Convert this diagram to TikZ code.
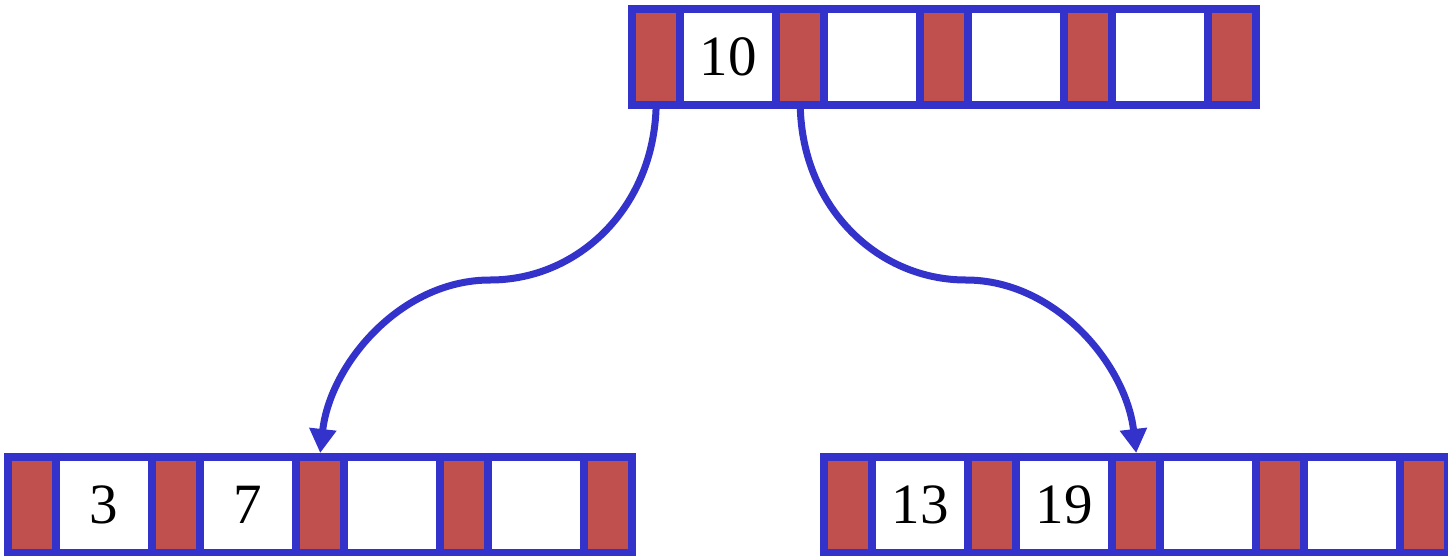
\documentclass[tikz,border=0pt]{standalone}
\usepackage{fontspec}
\setmainfont{Liberation Serif}
\usetikzlibrary{arrows.meta,calc}
\definecolor{bblue}{RGB}{51,51,204}
\definecolor{cred}{RGB}{192,80,77}
\tikzset{
  frame/.style={fill=bblue, inner sep=0pt, minimum width=632pt, minimum height=104pt, anchor=north west},
  ptr/.style={fill=cred, inner sep=0pt, minimum width=40pt, minimum height=88pt, anchor=north west},
  keycell/.style={fill=white, inner sep=0pt, minimum width=88pt, minimum height=88pt, anchor=north west, font=\fontsize{57}{60}\selectfont},
  link/.style={draw=bblue, line width=7pt, -{Triangle[width=26pt,length=24pt]}}
}
\newcommand{\bnode}[7]{%
  \node[frame] (#1) at (#2,#3) {};
  \node[ptr] (#1p1) at (#2+8,#3+8) {};
  \node[keycell] (#1k1) at (#2+56,#3+8) {#4};
  \node[ptr] (#1p2) at (#2+152,#3+8) {};
  \node[keycell] (#1k2) at (#2+200,#3+8) {#5};
  \node[ptr] (#1p3) at (#2+296,#3+8) {};
  \node[keycell] (#1k3) at (#2+344,#3+8) {#6};
  \node[ptr] (#1p4) at (#2+440,#3+8) {};
  \node[keycell] (#1k4) at (#2+488,#3+8) {#7};
  \node[ptr] (#1p5) at (#2+584,#3+8) {};
}
\begin{document}
\begin{tikzpicture}[x=1pt,y=-1pt]
\useasboundingbox (0,0) rectangle (1448,555);
\clip (0,0) rectangle (1448,555);
\bnode{t}{628}{5}{10}{}{}{}
\bnode{l}{4}{453}{3}{7}{}{}
\bnode{r}{820}{453}{13}{19}{}{}
\coordinate (lmid) at (490,280);
\coordinate (rmid) at (966,280);
\draw[link] (tp1.south) .. controls (656,205) and (580,280) .. (lmid)
  .. controls (400,280) and (330,365) .. (lp3.north |- l.north);
\draw[link] (tp2.south) .. controls (800,205) and (876,280) .. (rmid)
  .. controls (1056,280) and (1126,365) .. (rp3.north |- r.north);
\end{tikzpicture}
\end{document}
